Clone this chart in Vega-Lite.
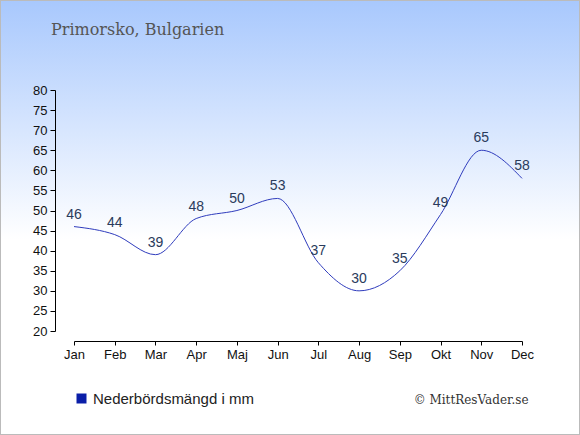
{
  "$schema": "https://vega.github.io/schema/vega-lite/v6.json",
  "width": 580,
  "height": 435,
  "autosize": {"type": "none"},
  "padding": 0,
  "background": "white",
  "view": {
    "fill": {
      "gradient": "linear",
      "x1": 0, "y1": 0, "x2": 0, "y2": 1,
      "stops": [
        {"offset": 0, "color": "#a8c8fd"},
        {"offset": 0.55, "color": "#ffffff"},
        {"offset": 1, "color": "#ffffff"}
      ]
    },
    "stroke": "#bbbbbb",
    "strokeWidth": 2
  },
  "title": {
    "text": "Primorsko, Bulgarien",
    "anchor": "start",
    "frame": "bounds",
    "font": "DejaVu Serif",
    "fontSize": 16,
    "fontWeight": "normal",
    "color": "#555555",
    "baseline": "alphabetic",
    "offset": 0,
    "dx": 51,
    "dy": 51
  },
  "data": {
    "values": [
      {"month": "Jan", "mm": 46},
      {"month": "Feb", "mm": 44},
      {"month": "Mar", "mm": 39},
      {"month": "Apr", "mm": 48},
      {"month": "Maj", "mm": 50},
      {"month": "Jun", "mm": 53},
      {"month": "Jul", "mm": 37},
      {"month": "Aug", "mm": 30},
      {"month": "Sep", "mm": 35},
      {"month": "Okt", "mm": 49},
      {"month": "Nov", "mm": 65},
      {"month": "Dec", "mm": 58}
    ]
  },
  "encoding": {
    "x": {
      "field": "month",
      "type": "ordinal",
      "sort": null,
      "scale": {"type": "point", "range": [74, 522], "padding": 0},
      "axis": {
        "orient": "bottom",
        "offset": -94,
        "labelAngle": 0,
        "labelPadding": 3,
        "tickSize": 4,
        "title": "© MittResVader.se",
        "titleFont": "DejaVu Serif",
        "titleFontSize": 12,
        "titleFontWeight": "normal",
        "titleColor": "#333333",
        "titleX": 528,
        "titleY": 62,
        "titleAlign": "right",
        "titleAnchor": null,
        "titleBaseline": "alphabetic"
      }
    },
    "y": {
      "field": "mm",
      "type": "quantitative",
      "scale": {"domain": [20, 80], "range": [331, 90], "zero": false, "nice": false},
      "axis": {
        "orient": "left",
        "offset": -55,
        "values": [20, 25, 30, 35, 40, 45, 50, 55, 60, 65, 70, 75, 80],
        "tickSize": 5,
        "labelPadding": 3,
        "title": null
      }
    }
  },
  "layer": [
    {
      "mark": {"type": "line", "interpolate": "monotone", "strokeWidth": 1},
      "encoding": {
        "color": {
          "datum": "Nederbördsmängd i mm",
          "type": "nominal",
          "scale": {"range": ["#2f3cbd"]},
          "legend": {
            "orient": "none",
            "legendX": 74,
            "legendY": 391,
            "title": null,
            "symbolType": "square",
            "symbolSize": 100,
            "symbolStrokeWidth": 0,
            "labelFont": "Liberation Sans",
            "labelFontSize": 15,
            "labelColor": "#222222",
            "labelOffset": 4,
            "labelLimit": 400,
            "encode": {
              "symbols": {"update": {"fill": {"value": "#0a1ea8"}, "strokeWidth": {"value": 0}}}
            }
          }
        }
      }
    },
    {
      "mark": {
        "type": "text",
        "baseline": "bottom",
        "dy": -5,
        "font": "Liberation Sans",
        "fontSize": 14,
        "color": "#2a3b5c"
      },
      "encoding": {"text": {"field": "mm", "type": "quantitative"}}
    }
  ],
  "config": {
    "axis": {
      "grid": false,
      "domainColor": "#000000",
      "tickColor": "#000000",
      "labelColor": "#111111",
      "labelFont": "Liberation Sans",
      "labelFontSize": 13
    }
  }
}
